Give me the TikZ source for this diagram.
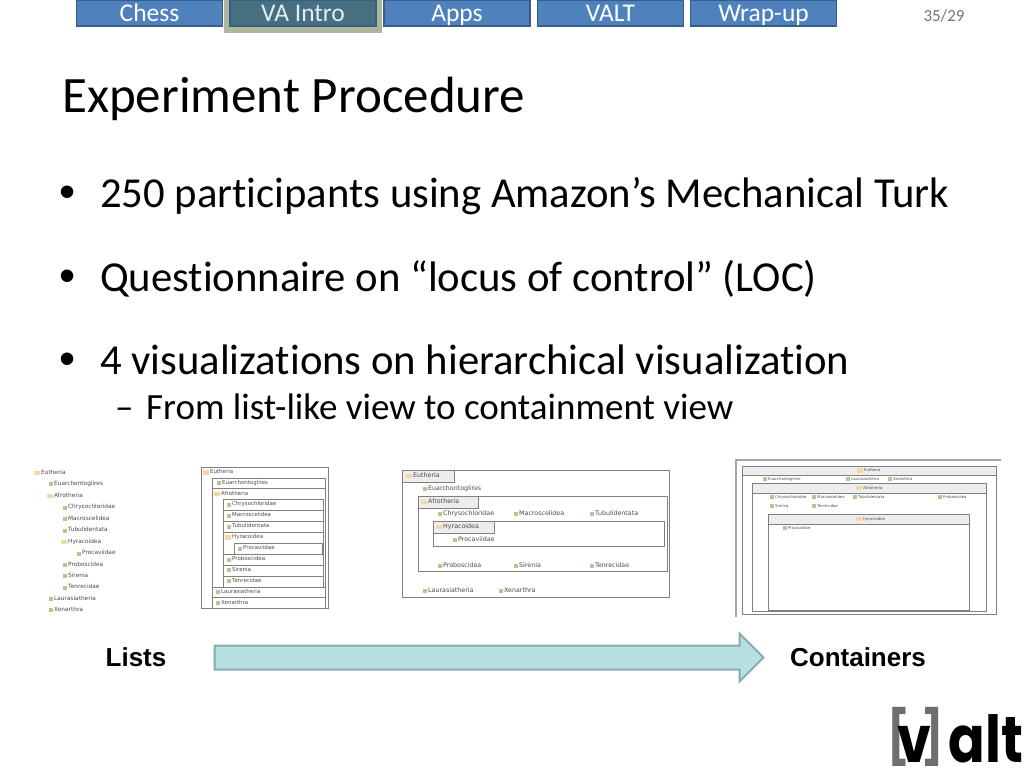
\documentclass[tikz,border=0pt]{standalone}
\usepackage{fontspec}
\setmainfont{Carlito}[Ligatures=NoCommon]
\newfontfamily\arialfont{Liberation Sans}
\newfontfamily\thumbfont{DejaVu Sans}
\newfontfamily\logofont{Poppins}
\usetikzlibrary{shapes.arrows}

\definecolor{navblue}{HTML}{4F81BD}
\definecolor{navedge}{HTML}{385D8A}
\definecolor{navdark}{HTML}{46707F}
\definecolor{navglow}{HTML}{AEB69B}
\definecolor{arrowfill}{HTML}{B7DEE0}
\definecolor{arrowedge}{HTML}{85ABAC}
\definecolor{leafgreen}{HTML}{B5C78F}
\definecolor{foldertan}{HTML}{F3D9A0}
\definecolor{headgray}{HTML}{EDEDED}
\definecolor{thumbtext}{HTML}{4A4A4A}
\definecolor{logogray}{HTML}{6E6E6E}

\newcommand{\thumbsize}{5.8}
\newcommand{\logobracket}[1]{\raisebox{5.5pt}{\fontsize{44}{46}\selectfont\textcolor{logogray}{#1}}}

\tikzset{
  navbox/.style={draw=navedge, line width=1.5pt, fill=navblue, text=white, minimum width=146pt,
    minimum height=26pt, inner sep=0pt, text height=19pt, text depth=1.6pt, font=\fontsize{25.5}{27}\selectfont},
  navon/.style={navbox, fill=navdark, text=white!85!navblue},
  slidetext/.style={anchor=base west, inner sep=0pt, font=\fontsize{42.7}{45}\selectfont},
  subtext/.style={anchor=base west, inner sep=0pt, font=\fontsize{37}{39}\selectfont},
  bulletmark/.style={anchor=base west, inner sep=0pt, font=\arialfont\fontsize{46}{48}\selectfont},
  caption/.style={inner sep=0pt, font=\arialfont\bfseries\fontsize{26}{28}\selectfont},
  thumbline/.style={draw=black!50, line width=0.8pt},
  thumbhead/.style={thumbline, fill=headgray},
  leaficon/.style={fill=leafgreen, minimum size=4pt, inner sep=0pt, xshift=-1pt},
  foldericon/.style={fill=foldertan, minimum width=6pt, minimum height=4.5pt, inner sep=0pt, xshift=-0.5pt},
  leaf/.style={anchor=west, inner sep=0pt, text=thumbtext, font=\thumbfont\fontsize{\thumbsize}{6}\selectfont,
    execute at begin node=\strut, label={[leaficon]left:{}}},
  folder/.style={anchor=west, inner sep=0pt, text=thumbtext, font=\thumbfont\fontsize{\thumbsize}{6}\selectfont,
    execute at begin node=\strut, label={[foldericon]left:{}}},
  logotext/.style={anchor=base west, inner sep=0pt, transform shape, yscale=1.2,
    font=\logofont\bfseries\fontsize{54}{56}\selectfont}
}

\begin{document}
\begin{tikzpicture}[x=1pt, y=-1pt]
  \useasboundingbox (0,0) rectangle (1024,768);

  % Navigation bar
  \fill[navglow] (224,-2) rectangle (382,33);
  \node[navbox] (chess) at (149.5,13) {Chess};
  \node[navon, path picture={\fill[navblue!85!navdark] (238,8) rectangle (368,21);}] (vaintro) at (303,13) {VA Intro};
  \node[navbox] (apps) at (457,13) {Apps};
  \node[navbox] (valt) at (610.5,13) {VALT};
  \node[navbox] (wrapup) at (763.5,13) {Wrap-up};
  \node[inner sep=0pt, text=black!55, font=\fontsize{17}{19}\selectfont] (pagenum) at (944,16) {35/29};

  % Title and bullets
  \node[anchor=base west, inner sep=0pt, font=\fontsize{51}{54}\selectfont] (title) at (62,112) {Experiment Procedure};
  \node[bulletmark] (dotA) at (59,207) {•};
  \node[slidetext] (itemA) at (100,207) {250 participants using Amazon’s Mechanical Turk};
  \node[bulletmark] (dotB) at (59,291) {•};
  \node[slidetext] (itemB) at (100,291) {Questionnaire on “locus of control” (LOC)};
  \node[bulletmark] (dotC) at (59,374) {•};
  \node[slidetext] (itemC) at (100,374) {4 visualizations on hierarchical visualization};
  \node[subtext] (dashD) at (115,419) {–};
  \node[subtext] (itemD) at (146,419) {From list-like view to containment view};

  % First thumbnail: plain list
  \renewcommand{\thumbsize}{5.8}
  \node[folder] (aEutheria) at (41,473) {Eutheria};
  \node[leaf] (aEuarchonta) at (54,484) {Euarchontoglires};
  \node[folder] (aAfrotheria) at (54,496) {Afrotheria};
  \node[leaf] (aChryso) at (68,507.5) {Chrysochloridae};
  \node[leaf] (aMacro) at (68,519) {Macroscelidea};
  \node[leaf] (aTubuli) at (68,530.5) {Tubulidentata};
  \node[folder] (aHyrax) at (68,542) {Hyracoidea};
  \node[leaf] (aProca) at (82,553.5) {Procaviidae};
  \node[leaf] (aProbo) at (68,565) {Proboscidea};
  \node[leaf] (aSirenia) at (68,576) {Sirenia};
  \node[leaf] (aTenrec) at (68,587.5) {Tenrecidae};
  \node[leaf] (aLaura) at (54,599) {Laurasiatheria};
  \node[leaf] (aXenar) at (54,610) {Xenarthra};

  % Second thumbnail: nested list
  \renewcommand{\thumbsize}{5.45}
  \draw[thumbline] (201,467) rectangle (328,608);
  \draw[thumbline] (212,478) rectangle (325,488);
  \draw[thumbline] (212,488) rectangle (325,587);
  \draw[thumbline] (223,499) rectangle (323,510);
  \draw[thumbline] (223,510) rectangle (323,521);
  \draw[thumbline] (223,521) rectangle (323,532);
  \draw[thumbline] (223,532) rectangle (323,554);
  \draw[thumbline] (234,543) rectangle (322,554);
  \draw[thumbline] (223,554) rectangle (323,565);
  \draw[thumbline] (223,565) rectangle (323,576);
  \draw[thumbline] (223,576) rectangle (323,587);
  \draw[thumbline] (212,587) rectangle (325,597);
  \draw[thumbline] (212,597) rectangle (325,608);
  \node[folder] (bEutheria) at (210,472.5) {Eutheria};
  \node[leaf] (bEuarchonta) at (222,483) {Euarchontoglires};
  \node[folder] (bAfrotheria) at (221,494) {Afrotheria};
  \node[leaf] (bChryso) at (232,504.5) {Chrysochloridae};
  \node[leaf] (bMacro) at (232,515.5) {Macroscelidea};
  \node[leaf] (bTubuli) at (232,526.5) {Tubulidentata};
  \node[folder] (bHyrax) at (232,537.5) {Hyracoidea};
  \node[leaf] (bProca) at (243,548.5) {Procaviidae};
  \node[leaf] (bProbo) at (232,559.5) {Proboscidea};
  \node[leaf] (bSirenia) at (232,570) {Sirenia};
  \node[leaf] (bTenrec) at (232,581) {Tenrecidae};
  \node[leaf] (bLaura) at (221,592) {Laurasiatheria};
  \node[leaf] (bXenar) at (221,603) {Xenarthra};

  % Third thumbnail: tabs
  \renewcommand{\thumbsize}{6.3}
  \draw[thumbline] (402,470) rectangle (669,597);
  \draw[thumbhead] (402,470) rectangle (454,482);
  \draw[thumbline] (418,496) rectangle (667,571);
  \draw[thumbhead] (418,496) rectangle (478,508);
  \draw[thumbline] (433,521) rectangle (664,546);
  \draw[thumbhead] (433,521) rectangle (494,533);
  \node[folder] (cEutheria) at (413,476) {Eutheria};
  \node[leaf] (cEuarchonta) at (428,489) {Euarchontoglires};
  \node[folder] (cAfrotheria) at (428,502) {Afrotheria};
  \node[leaf] (cChryso) at (443,514) {Chrysochloridae};
  \node[leaf] (cMacro) at (519,514) {Macroscelidea};
  \node[leaf] (cTubuli) at (595,514) {Tubulidentata};
  \node[folder] (cHyrax) at (443,527) {Hyracoidea};
  \node[leaf] (cProca) at (458,540) {Procaviidae};
  \node[leaf] (cProbo) at (443,566) {Proboscidea};
  \node[leaf] (cSirenia) at (519,566) {Sirenia};
  \node[leaf] (cTenrec) at (595,566) {Tenrecidae};
  \node[leaf] (cLaura) at (428,591) {Laurasiatheria};
  \node[leaf] (cXenar) at (504,591) {Xenarthra};

  % Fourth thumbnail: containers
  \renewcommand{\thumbsize}{3.85}
  \draw[draw=black!35, line width=1.2pt] (736,617) -- (736,460) -- (1001,460);
  \draw[thumbline] (742,466) rectangle (996,614);
  \draw[thumbhead] (742,466) rectangle (996,475);
  \draw[thumbline] (752,483) rectangle (986,611);
  \draw[thumbhead] (752,483) rectangle (986,493);
  \draw[thumbline] (768,514) rectangle (969,610);
  \draw[thumbhead] (768,514) rectangle (969,524);
  \node[folder] (dEutheria) at (864,470.5) {Eutheria};
  \node[leaf] (dEuarchonta) at (768,479) {Euarchontoglires};
  \node[leaf] (dLaura) at (851,479) {Laurasiatheria};
  \node[leaf] (dXenar) at (893,479) {Xenarthra};
  \node[folder] (dAfrotheria) at (863,488) {Afrotheria};
  \node[leaf] (dChryso) at (775,497) {Chrysochloridae};
  \node[leaf] (dMacro) at (817,497) {Macroscelidea};
  \node[leaf] (dTubuli) at (858,497) {Tubulidentata};
  \node[leaf] (dProbo) at (943,497) {Proboscidea};
  \node[leaf] (dSirenia) at (775,506) {Sirenia};
  \node[leaf] (dTenrec) at (817,506) {Tenrecidae};
  \node[folder] (dHyrax) at (863,519) {Hyracoidea};
  \node[leaf] (dProca) at (788,528) {Procaviidae};

  % Lists to containers
  \node[caption] (lists) at (136,657) {Lists};
  \node[caption] (containers) at (858,657) {Containers};
  \node[single arrow, draw=arrowedge, line width=2pt, fill=arrowfill, minimum width=47pt, minimum height=549pt,
    single arrow head extend=12pt, inner xsep=0pt, inner ysep=11pt] (flowarrow) at (483,657.5) {};

  % Logo
  \node[logotext] (logo) at (887,762) {\logobracket{[}\kern-12pt v\kern-10pt\logobracket{]}\kern5pt alt};
\end{tikzpicture}
\end{document}
